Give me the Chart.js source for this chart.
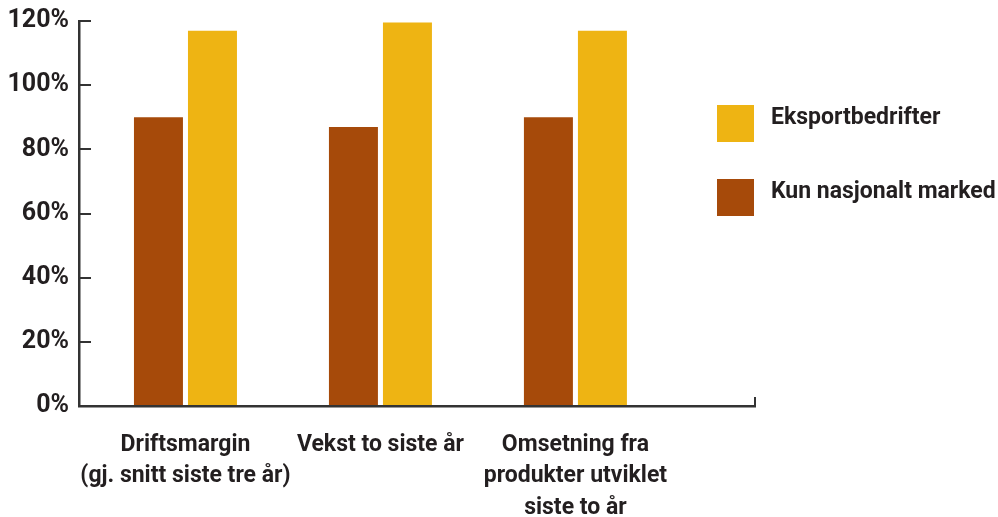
<!DOCTYPE html>
<html><head><meta charset="utf-8">
<script src="https://cdn.jsdelivr.net/npm/chart.js@4/dist/chart.umd.min.js"></script>
<style>html,body{margin:0;padding:0;background:#fff}#w{width:998px;height:517px}</style>
</head><body><div id="w"><canvas id="c"></canvas></div>
<script>
const categories = ['Driftsmargin (gj. snitt siste tre år)', 'Vekst to siste år', 'Omsetning fra produkter utviklet siste to år'];
const tickLines = [['Driftsmargin', '(gj. snitt siste tre år)'], ['Vekst to siste år'], ['Omsetning fra', 'produkter utviklet', 'siste to år']];
const seriesNames = ['Kun nasjonalt marked', 'Eksportbedrifter'];
const kunNasjonalt = [90, 87, 90];
const eksport = [117, 119.5, 117];
const yTicks = [0, 20, 40, 60, 80, 100, 120];

const FONT = "Roboto, 'Liberation Sans', sans-serif";
const TXT = '#231f20';
const BROWN = '#a64a0a';
const YELLOW = '#eeb413';

const legendPlugin = {
  id: 'sideLegend',
  afterDraw(chart) {
    const ctx = chart.ctx;
    const order = [1, 0];
    ctx.save();
    ctx.font = 'bold 23px ' + FONT;
    ctx.textBaseline = 'alphabetic';
    ctx.textAlign = 'left';
    order.forEach((di, k) => {
      const ds = chart.data.datasets[di];
      const y = 105 + k * 74;
      ctx.fillStyle = ds.backgroundColor;
      ctx.fillRect(717, y, 37, 37);
      ctx.fillStyle = TXT;
      ctx.fillText(ds.label, 771, y + 18.5);
    });
    const xs = chart.scales.x;
    ctx.strokeStyle = '#333';
    ctx.lineWidth = 2;
    ctx.beginPath();
    ctx.moveTo(xs.right, xs.top);
    ctx.lineTo(xs.right, xs.top - 9);
    ctx.stroke();
    ctx.restore();
  }
};

new Chart(document.getElementById('c'), {
  type: 'bar',
  data: {
    datasets: [
      { label: seriesNames[0], data: kunNasjonalt.map((v, i) => ({x: i, y: v})), backgroundColor: BROWN },
      { label: seriesNames[1], data: eksport.map((v, i) => ({x: i, y: v})), backgroundColor: YELLOW }
    ]
  },
  options: {
    responsive: true,
    maintainAspectRatio: false,
    animation: false,
    categoryPercentage: 0.554,
    barPercentage: 0.907,
    layout: { autoPadding: false, padding: { top: 21, right: 243, left: 0, bottom: 0 } },
    plugins: { legend: { display: false }, tooltip: { enabled: false } },
    scales: {
      x: {
        type: 'linear',
        offset: false,
        min: -0.546,
        max: 2.921,
        afterBuildTicks: (s) => { s.ticks = categories.map((c, i) => ({value: i})); },
        afterFit: (s) => { s.height = 111; s.paddingLeft = 0; s.paddingRight = 0; },
        grid: { display: false },
        border: { display: true, color: '#333', width: 2.5 },
        ticks: {
          autoSkip: false, maxRotation: 0, padding: 15,
          color: TXT,
          font: { family: FONT, size: 23, weight: 'bold', lineHeight: 1.37 },
          callback: (v) => tickLines[v] || ''
        }
      },
      y: {
        min: 0, max: 120,
        afterBuildTicks: (s) => { s.ticks = yTicks.map(v => ({value: v})); },
        afterFit: (s) => { s.width = 79; s.paddingTop = 0; s.paddingBottom = 0; },
        grid: { display: true, drawOnChartArea: false, drawTicks: true, tickLength: -12, color: '#333', lineWidth: 2 },
        border: { display: true, color: '#333', width: 2.5 },
        ticks: {
          padding: 22, color: TXT,
          font: { family: FONT, size: 25, weight: 'bold' },
          callback: (v) => v + '%'
        }
      }
    }
  },
  plugins: [legendPlugin]
});
</script>
</body></html>
